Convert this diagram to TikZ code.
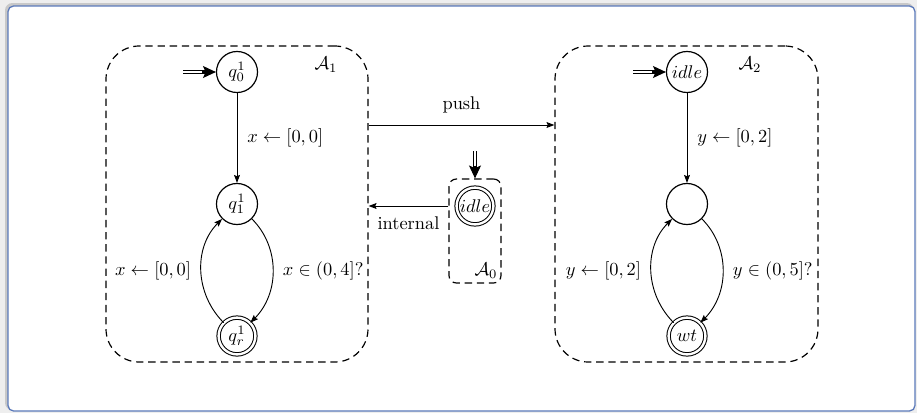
\documentclass[tikz,border=0pt]{standalone}
\usetikzlibrary{arrows.meta,fit}
\definecolor{frameblue}{RGB}{92,122,186}
\definecolor{pagegray}{RGB}{238,238,238}
\definecolor{shadowgray}{RGB}{200,200,200}
\begin{document}
\begin{tikzpicture}[x=0.5435pt,y=-0.5435pt,
  state/.style={circle,draw,line width=0.65pt,minimum size=22.3pt,inner sep=0pt},
  final/.style={circle,draw,line width=0.55pt,double,double distance=1.3pt,minimum size=20pt,inner sep=0pt},
  autbox/.style={draw,dashed,dash pattern=on 4pt off 2.6pt,line width=0.65pt,inner sep=0pt},
  trans/.style={line width=0.5pt,-{Stealth[length=4.3pt,width=3.2pt,inset=0.7pt]}},
  initshaft/.style={line width=0.6pt,double,double distance=1.1pt,shorten >=5pt},
  inithead/.style={line width=0.6pt,-{Stealth[length=7pt,width=6.5pt,inset=1.4pt]}}]
\useasboundingbox (0,0) rectangle (917,413);
% window frame
\fill[pagegray] (0,0) rectangle (917,413);
\fill[shadowgray,rounded corners=4pt] (5,3) rectangle (914,410);
\draw[frameblue,fill=white,line width=0.7pt,rounded corners=3pt] (8,6) rectangle (915,411);

% automaton A1
\coordinate (a1nw) at (106,46);
\coordinate (a1se) at (368,362);
\node[autbox,rounded corners=18pt,fit=(a1nw)(a1se)] (A1) {};
\node (lA1) at (326,65) {$\mathcal{A}_1$};
\node[state] (q0) at (237,72) {$q_0^1$};
\node[state] (q1) at (237,204) {$q_1^1$};
\node[final] (qr) at (237,336) {$q_r^1$};
\coordinate (q0in) at (183,72);
\draw[initshaft] (q0in) -- (q0);
\draw[inithead,shorten <=10.5pt] (q0in) -- (q0);
\draw[trans] (q0) -- node[right=2pt] {$x \leftarrow [0,0]$} (q1);
\draw[trans] (q1) to[out=-45,in=45] node[right=2pt] {$x \in (0,4]?$} (qr);
\draw[trans] (qr) to[out=135,in=-135] node[left=2pt] {$x \leftarrow [0,0]$} (q1);

% automaton A2
\coordinate (a2nw) at (555,46);
\coordinate (a2se) at (818,362);
\node[autbox,rounded corners=18pt,fit=(a2nw)(a2se)] (A2) {};
\node (lA2) at (750,65) {$\mathcal{A}_2$};
\node[state] (p0) at (687,72) {$idle$};
\node[state] (p1) at (687,204) {};
\node[final] (pw) at (687,336) {$wt$};
\coordinate (p0in) at (633,72);
\draw[initshaft] (p0in) -- (p0);
\draw[inithead,shorten <=10.5pt] (p0in) -- (p0);
\draw[trans] (p0) -- node[right=2pt] {$y \leftarrow [0,2]$} (p1);
\draw[trans] (p1) to[out=-45,in=45] node[right=2pt] {$y \in (0,5]?$} (pw);
\draw[trans] (pw) to[out=135,in=-135] node[left=2pt] {$y \leftarrow [0,2]$} (p1);

% automaton A0
\coordinate (a0nw) at (449,179);
\coordinate (a0se) at (501,283);
\node[autbox,rounded corners=4pt,fit=(a0nw)(a0se)] (A0) {};
\node (lA0) at (486,271) {$\mathcal{A}_0$};
\node[final] (s0) at (475,206) {$idle$};
\coordinate (s0in) at (475,151);
\draw[initshaft] (s0in) -- (A0.north -| s0in);
\draw[inithead,shorten <=8pt] (s0in) -- (A0.north -| s0in);

% links between automata
\coordinate (pushy) at (460,125);
\draw[trans] (A1.east |- pushy) -- node[above=3pt] {push} (A2.west |- pushy);
\draw[trans] (A0.west |- s0) -- node[below=2.5pt] {internal} (A1.east |- s0);
\end{tikzpicture}
\end{document}
